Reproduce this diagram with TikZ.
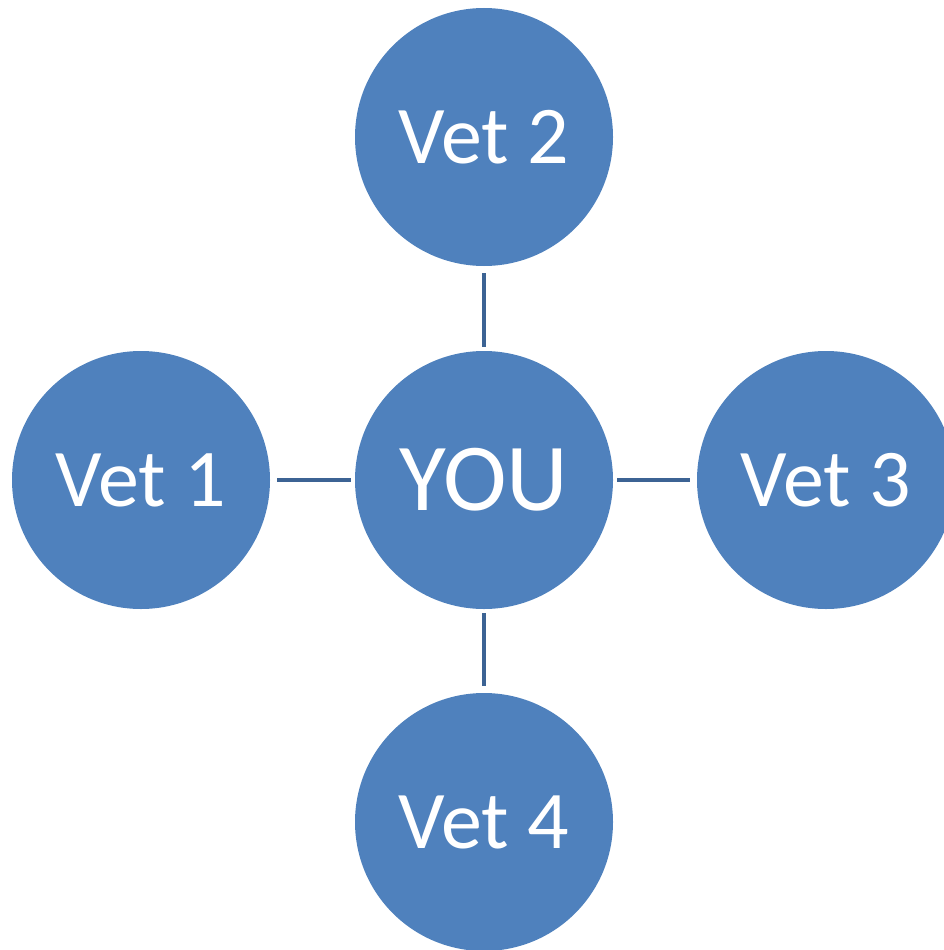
\documentclass[tikz,border=0pt]{standalone}
\usepackage{fontspec}
\setmainfont{Carlito}
\usepackage{tikz}
\tikzstyle{canvas} = [x = 1pt, y = -1pt]
\definecolor{vetFill}{RGB}{79,129,189}
\definecolor{linkColor}{RGB}{60,99,148}
\tikzstyle{vetCircle} = [circle, fill=vetFill, minimum size=258pt, inner sep=0pt, text=white, font=\fontsize{82}{90}\selectfont]
\tikzstyle{youCircle} = [vetCircle, font=\fontsize{96}{104}\selectfont]
\tikzstyle{linkLine} = [color=linkColor, line width=4.5pt, shorten <=7pt, shorten >=4pt]
\begin{document}
\begin{tikzpicture}[canvas]
  \useasboundingbox (0,0) rectangle (943,950);
  \node [youCircle] (you) at (484,480) {YOU};
  \node [vetCircle] (vetOne) at (141,480) {Vet 1};
  \node [vetCircle] (vetTwo) at (484,137) {Vet 2};
  \node [vetCircle] (vetThree) at (826,480) {Vet 3};
  \node [vetCircle] (vetFour) at (484,822) {Vet 4};
  \foreach \vet in {vetOne, vetTwo, vetThree, vetFour} {
    \draw [linkLine] (\vet) -- (you);
  }
\end{tikzpicture}
\end{document}
